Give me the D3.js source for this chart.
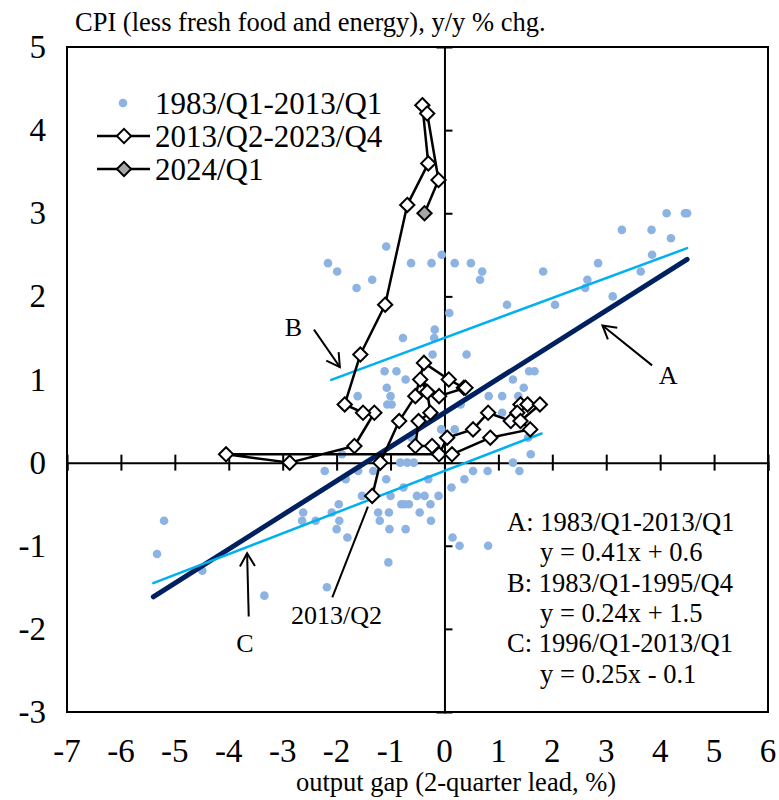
<!DOCTYPE html>
<html>
<head>
<meta charset="utf-8">
<script src="https://cdn.jsdelivr.net/npm/d3@7"></script>
<style>
  body { margin: 0; background: #fff; }
  svg text { font-family: "Liberation Serif", "Times New Roman", serif; fill: #000; }
</style>
</head>
<body>
<div id="chart"></div>
<script>
// 1983/Q1-2013/Q1 quarterly points (output gap, CPI y/y)
const histX = [4.12, 4.46, 4.5, 3.29, 3.84, 4.2, 3.85, 2.85, 2.65, 2.61, 3.64, 3.12, 1.83, 1.16, 2.05,
  -0.05, 0.19, 0.49, 0.7, 0.66, 0.09, -0.18, -0.19, 0.41, -0.22,
  -1.08, -2.16, -1.99, -1.34, -1.63, -0.62, -0.24, -0.77,
  -1.11, -0.89, -0.72, -1.07, -1.0, -1.06, -0.98, -1.61,
  1.57, 1.67, 1.47, 1.27, 0.82, 1.07, 1.37, 1.07,
  -0.06, 0.19, -0.61, 0.3, 1.55, 1.6,
  1.27, 1.39, 0.8, 0.53, 0.37, 0.13,
  -0.82, -0.69, -0.57, -1.9,
  -2.22, -1.83, -1.6, -1.32, -1.08,
  -1.53, -1.0, -0.51, -0.37, -0.11, -0.76, -0.3,
  -0.8, -0.74, -0.66, -0.26, -1.96,
  -2.09, -2.62, -1.23, -1.03, -0.46,
  -2.64, -2.39, -1.95, -1.2, -0.25,
  -2.0, -1.02, -0.72, -1.8, 0.15, 0.28, 0.81, -1.04, -2.18,
  -5.2, -5.33, -4.49, -3.34];
const histY = [3.0, 3.0, 3.0, 2.8, 2.8, 2.7, 2.5, 2.4, 2.2, 2.1, 2.3, 2.0, 2.3, 1.9, 1.9,
  2.5, 2.4, 2.4, 2.3, 2.2, 1.8, 1.6, 1.5, 1.3, 1.3,
  2.6, 2.4, 2.3, 2.2, 2.1, 2.4, 2.4, 1.5,
  1.1, 1.1, 1.0, 0.9, 0.8, 0.7, 0.7, 0.8,
  1.1, 1.1, 0.9, 1.0, 0.8, 0.8, 0.8, 0.6,
  0.4, 0.4, 0.3, 0.7, 0.3, 0.1,
  0.0, -0.1, -0.1, -0.1, -0.2, -0.3,
  0.0, 0.0, 0.0, 0.1,
  -0.1, -0.2, -0.1, -0.1, -0.2,
  -0.4, -0.4, -0.4, -0.4, -0.4, -0.3, -0.2,
  -0.5, -0.5, -0.5, -0.5, -0.5,
  -0.6, -0.6, -0.6, -0.6, -0.6,
  -0.7, -0.7, -0.7, -0.7, -0.7,
  -0.8, -0.8, -0.8, -0.9, -0.9, -1.0, -1.0, -1.2, -1.5,
  -0.7, -1.1, -1.3, -1.6];

// 2013/Q2-2023/Q4 path
const recentX = [-1.34, -1.19, -0.84, -0.54, -0.38, 0.08, 0.36, 0.39, -0.1, -0.45, -0.32, -0.26, -0.48,
  -0.54, -0.23, -0.1, 0.05, 0.53, 0.81, 1.23, 1.41, 1.35, 1.54, 1.77, 1.41, 1.59, 0.85, 0.14,
  -4.05, -2.87, -1.67, -1.3, -1.51, -1.85, -1.56, -1.1, -0.69, -0.3, -0.41, -0.32, -0.11];
const recentY = [-0.4, 0.0, 0.5, 0.8, 1.2, 1.0, 0.9, 0.9, 0.8, 1.0, 0.85, 0.6, 0.5,
  0.2, 0.2, 0.1, 0.3, 0.4, 0.6, 0.5, 0.7, 0.6, 0.7, 0.7, 0.5, 0.4, 0.3, 0.1,
  0.1, 0.0, 0.2, 0.6, 0.6, 0.7, 1.3, 1.9, 3.1, 3.6, 4.3, 4.2, 3.4];

// 2024/Q1
const latestX = [-0.37];
const latestY = [3.0];

// fitted lines
const fitNames = ['A', 'B', 'C'];
const fitSlope = [0.41, 0.24, 0.25];
const fitIntercept = [0.6, 1.5, -0.1];
const fitFrom = [-5.4, -2.1, -5.4];
const fitTo = [4.5, 4.5, 1.8];

const xTicks = d3.range(-7, 7);
const yTicks = d3.range(-3, 6);

const legendLabels = ['1983/Q1-2013/Q1', '2013/Q2-2023/Q4', '2024/Q1'];
const noteLines = ['A: 1983/Q1-2013/Q1', 'y = 0.41x + 0.6', 'B: 1983/Q1-1995/Q4', 'y = 0.24x + 1.5',
  'C: 1996/Q1-2013/Q1', 'y = 0.25x - 0.1'];

const width = 779, height = 800;
const svg = d3.select('#chart').append('svg').attr('width', width).attr('height', height);

const x = d3.scaleLinear().domain([-7, 6]).range([67, 768]);
const y = d3.scaleLinear().domain([-3, 5]).range([712, 47]);

const dotColor = '#8db3e2';
const navy = '#002060';
const cyan = '#00b0f0';

// frame
svg.append('rect')
  .attr('x', x(-7)).attr('y', y(5))
  .attr('width', x(6) - x(-7)).attr('height', y(-3) - y(5))
  .attr('fill', 'none').attr('stroke', '#000').attr('stroke-width', 2);

// axes through zero
svg.append('g').attr('transform', `translate(0,${y(0)})`)
  .call(d3.axisBottom(x).tickValues(xTicks).tickSize(8).tickFormat(''))
  .call(g => g.select('.domain').attr('stroke-width', 2))
  .call(g => g.selectAll('.tick line').attr('y1', -8).attr('stroke-width', 2));
svg.append('g').attr('transform', `translate(${x(0)},0)`)
  .call(d3.axisLeft(y).tickValues(yTicks).tickSize(8).tickFormat(''))
  .call(g => g.select('.domain').attr('stroke-width', 2))
  .call(g => g.selectAll('.tick line').attr('x2', 8).attr('stroke-width', 2));

// tick labels outside the frame
svg.append('g').selectAll('text').data(xTicks).join('text')
  .attr('x', d => x(d)).attr('y', 762)
  .attr('text-anchor', 'middle').attr('font-size', 33)
  .text(d => d);
svg.append('g').selectAll('text').data(yTicks).join('text')
  .attr('x', 46).attr('y', d => y(d) + 11)
  .attr('text-anchor', 'end').attr('font-size', 33)
  .text(d => d);

svg.append('text').attr('x', 75).attr('y', 31).attr('font-size', 26.5)
  .text('CPI (less fresh food and energy), y/y % chg.');
svg.append('text').attr('x', 456).attr('y', 791).attr('text-anchor', 'middle').attr('font-size', 26.5)
  .text('output gap (2-quarter lead, %)');

// historical dots
const hist = histX.map((d, i) => ({ x: d, y: histY[i] }));
svg.append('g').selectAll('circle').data(hist).join('circle')
  .attr('cx', d => x(d.x)).attr('cy', d => y(d.y)).attr('r', 4.3)
  .attr('fill', dotColor);

// fitted lines
const fits = fitNames.map((n, i) => ({
  name: n,
  pts: [fitFrom[i], fitTo[i]].map(v => [v, fitSlope[i] * v + fitIntercept[i]])
}));
const line = d3.line().x(d => x(d[0])).y(d => y(d[1]));
svg.append('g').selectAll('path').data(fits).join('path')
  .attr('d', d => line(d.pts))
  .attr('fill', 'none')
  .attr('stroke', d => d.name === 'A' ? navy : cyan)
  .attr('stroke-width', d => d.name === 'A' ? 5 : 2.5)
  .attr('stroke-linecap', 'round');

// annotations with arrows
const annotations = [
  { text: 'A', from: [3.85, 1.17], to: [2.93, 1.65], label: [4.15, 1.05], head: true },
  { text: 'B', from: [-2.42, 1.6], to: [-1.94, 1.15], label: [-2.8, 1.63], head: true },
  { text: 'C', from: [-3.63, -1.85], to: [-3.66, -1.09], label: [-3.7, -2.17], head: true },
  { text: '2013/Q2', from: [-2.08, -1.62], to: [-1.42, -0.53], label: [-2.0, -1.83], head: false }
];
const ann = svg.append('g');
annotations.forEach(a => {
  const x1 = x(a.from[0]), y1 = y(a.from[1]), x2 = x(a.to[0]), y2 = y(a.to[1]);
  ann.append('line').attr('x1', x1).attr('y1', y1).attr('x2', x2).attr('y2', y2)
    .attr('stroke', '#000').attr('stroke-width', 2);
  if (a.head) {
    const ang = Math.atan2(y2 - y1, x2 - x1);
    const len = 15, spread = Math.PI / 6;
    const p = [ang + Math.PI - spread, ang + Math.PI + spread]
      .map(t => [x2 + len * Math.cos(t), y2 + len * Math.sin(t)]);
    ann.append('path')
      .attr('d', `M${p[0][0]},${p[0][1]}L${x2},${y2}L${p[1][0]},${p[1][1]}`)
      .attr('fill', 'none').attr('stroke', '#000').attr('stroke-width', 2);
  }
  ann.append('text').attr('x', x(a.label[0])).attr('y', y(a.label[1]) + 9)
    .attr('text-anchor', 'middle').attr('font-size', 26)
    .text(a.text);
});

// diamond path 2013/Q2-2023/Q4 and 2024/Q1
const recent = recentX.map((d, i) => [d, recentY[i]]);
const latest = latestX.map((d, i) => [d, latestY[i]]);
svg.append('path').attr('d', line(recent))
  .attr('fill', 'none').attr('stroke', '#000').attr('stroke-width', 2.5).attr('stroke-linejoin', 'round');
svg.append('path').attr('d', line([recent[recent.length - 1], ...latest]))
  .attr('fill', 'none').attr('stroke', '#000').attr('stroke-width', 2.5);

const diamond = d3.symbol().type(d3.symbolDiamond2).size(130);
svg.append('g').selectAll('path').data(recent).join('path')
  .attr('transform', d => `translate(${x(d[0])},${y(d[1])})`)
  .attr('d', diamond).attr('fill', '#fff').attr('stroke', '#000').attr('stroke-width', 2);
svg.append('g').selectAll('path').data(latest).join('path')
  .attr('transform', d => `translate(${x(d[0])},${y(d[1])})`)
  .attr('d', diamond).attr('fill', '#a6a6a6').attr('stroke', '#000').attr('stroke-width', 2);

// legend
const legend = svg.append('g');
const rowY = [103, 136, 169];
legendLabels.forEach((lab, i) => {
  const cy = rowY[i];
  if (i === 0) {
    legend.append('circle').attr('cx', 123).attr('cy', cy).attr('r', 4.3).attr('fill', dotColor);
  } else {
    legend.append('line').attr('x1', 97).attr('x2', 150).attr('y1', cy).attr('y2', cy)
      .attr('stroke', '#000').attr('stroke-width', 2.5);
    legend.append('path').attr('transform', `translate(124,${cy})`).attr('d', diamond)
      .attr('fill', i === 1 ? '#fff' : '#a6a6a6').attr('stroke', '#000').attr('stroke-width', 2);
  }
  legend.append('text').attr('x', 155).attr('y', cy + 11).attr('font-size', 31).text(lab);
});

// equation notes
const notes = svg.append('g');
noteLines.forEach((t, i) => {
  notes.append('text')
    .attr('x', i % 2 === 0 ? 507 : 540)
    .attr('y', 531 + i * 30.3)
    .attr('font-size', 26.5)
    .text(t);
});
</script>
</body>
</html>
